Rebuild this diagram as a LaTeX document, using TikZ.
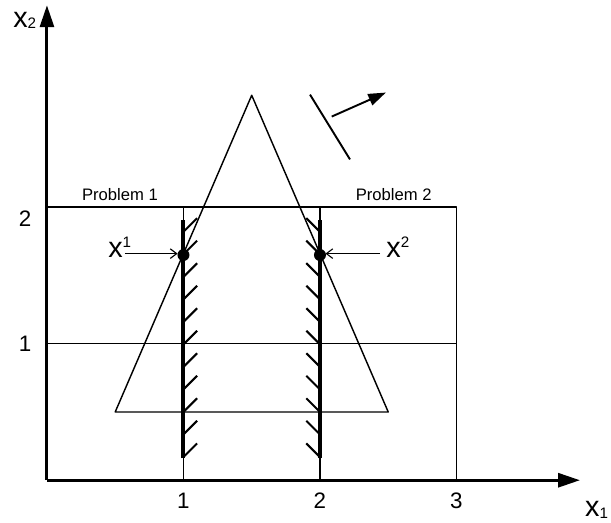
\documentclass[tikz,border=0pt]{standalone}
\usepackage{fontspec}
\setmainfont{Liberation Sans}
\usetikzlibrary{arrows.meta}
\tikzset{
  thinline/.style={line width=0.9pt},
  feasline/.style={line width=2.5pt},
  hatch/.style={line width=1.3pt},
  axis/.style={line width=1.9pt,-{Triangle[length=13.7pt,width=8.7pt]}},
  pointer/.style={line width=0.7pt,-{Straight Barb[length=4pt,width=6pt]}},
  ticklbl/.style={anchor=base,inner sep=0pt,font=\fontsize{14}{16}\selectfont},
  problbl/.style={anchor=base,inner sep=0pt,font=\fontsize{10.4}{12}\selectfont},
  varlbl/.style={inner sep=0pt,font=\fontsize{18}{20}\selectfont}
}
\newcommand{\supx}[1]{x\raisebox{6.2pt}{\fontsize{9.5}{10}\selectfont #1}}
\newcommand{\subx}[1]{x\raisebox{-1pt}{\fontsize{9.5}{10}\selectfont #1}}
\begin{document}
\begin{tikzpicture}[x=3cm,y=3cm,line join=round]
\useasboundingbox (-0.344,-0.307) rectangle (4.132,3.518);
% points
\coordinate (O) at (0,0);
\coordinate (A) at (0.5,0.5);
\coordinate (B) at (2.5,0.5);
\coordinate (C) at (1.5,2.82);
\coordinate (X1) at (1,1.65);
\coordinate (X2) at (2,1.65);
% boxes of the two problems
\draw[thinline] (0,2) -- (3,2) -- (3,0);
\draw[thinline] (0,1) -- (3,1);
\draw[thinline] (1,0) -- (1,2) (2,0) -- (2,2);
% triangle
\draw[thinline] (A) -- (B) -- (C) -- cycle;
% feasible lines and hatching
\draw[feasline] (1,0.16) -- (1,1.91);
\draw[feasline] (2,0.16) -- (2,1.91);
\foreach \y in {0.17,0.335,...,1.85}{
  \draw[hatch] (1,\y) -- ++(0.1,0.1);
  \draw[hatch] (2,\y) -- ++(-0.1,0.1);
}
\fill (X1) circle(0.044) (X2) circle(0.044);
% objective direction
\draw[line width=1.2pt] (1.927,2.825) -- (2.22,2.35);
\draw[line width=1.2pt,-{Triangle[length=11pt,width=7.5pt]}] (2.086,2.664) -- (2.483,2.84);
% axes
\draw[axis] (O) -- (3.905,0);
\draw[axis] (O) -- (0,3.48);
\node[varlbl,anchor=base west] (lx1) at (3.94,-0.265) {\subx{1}};
\node[varlbl,anchor=base west] (lx2) at (-0.249,3.32) {\subx{2}};
\foreach \x in {1,2,3}
  \node[ticklbl] (t\x) at (\x,-0.21) {\x};
\node[ticklbl] (s1) at (-0.16,0.94) {1};
\node[ticklbl] (s2) at (-0.16,1.86) {2};
\node[problbl] (p1) at (0.535,2.05) {Problem 1};
\node[problbl] (p2) at (2.54,2.05) {Problem 2};
% pointers
\node[varlbl,anchor=base west] (x1) at (0.447,1.635) {\supx{1}};
\node[varlbl,anchor=base west] (x2) at (2.485,1.635) {\supx{2}};
\coordinate (e1) at (0.571,1.66);
\coordinate (e2) at (2.44,1.66);
\draw[pointer] (e1) -- (0.957,1.66);
\draw[pointer] (e2) -- (2.04,1.66);
\end{tikzpicture}
\end{document}
